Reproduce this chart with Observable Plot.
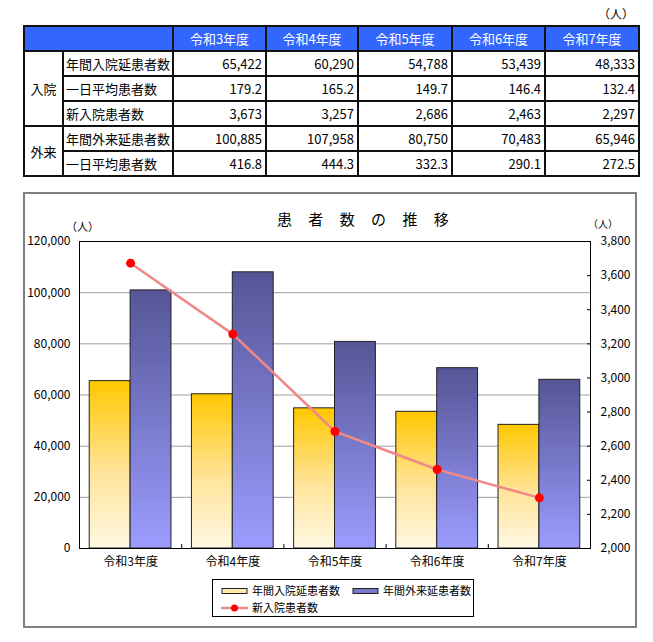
<!DOCTYPE html>
<html><head><meta charset="utf-8">
<script src="https://cdn.jsdelivr.net/npm/d3@7"></script>
<script src="https://cdn.jsdelivr.net/npm/@observablehq/plot@0.6"></script>
<style>
body{margin:0;background:#fff;font-family:"Noto Sans CJK JP","Noto Sans",sans-serif;width:653px;height:642px;position:relative;overflow:hidden;color:#000}
#unit{position:absolute;left:598px;top:8px;font-size:12px;line-height:1}
#tbl{position:absolute;left:23px;top:25px;width:615px;table-layout:fixed;border-collapse:collapse;border:2px solid #111;font-size:13px}
#tbl th,#tbl td{border:2px solid #111;padding:0;height:23px;line-height:23px;white-space:nowrap;overflow:hidden}
#tbl th{background:#3366ff;color:#fff;font-weight:normal;text-align:center}
#tbl td.num{text-align:right;padding-right:3px}
#tbl td.lab{text-align:left;padding-left:2px}
#tbl td.grp{text-align:center}
#box{position:absolute;left:23px;top:192px;width:614px;height:436px;box-sizing:border-box;border:2px solid #808080}
#title{position:absolute;left:277px;top:211px;font-size:15px;line-height:1;letter-spacing:6.5px;white-space:pre}
#ylab{position:absolute;left:66px;top:221px;font-size:11px;line-height:1}
#y2lab{position:absolute;left:588px;top:219px;font-size:10px;line-height:1}
#chart{position:absolute;left:0;top:200px}
#legend{position:absolute;left:212px;top:579px;width:262px;height:38px;box-sizing:border-box;border:1px solid #000;font-size:11px;background:#fff}
.li{position:absolute;display:flex;align-items:center;white-space:nowrap;line-height:1}
.li svg{margin-right:3px}
</style>
</head><body>
<div id="unit">（人）</div>
<table id="tbl"></table>
<div id="box"></div>
<div id="title">患 者 数 の 推 移</div>
<div id="ylab">（人）</div>
<div id="y2lab">（人）</div>
<div id="chart"></div>
<div id="legend"></div>
<script>
// ---- data ----
const years = ["令和3年度","令和4年度","令和5年度","令和6年度","令和7年度"];
const inpatientDays = [65422, 60290, 54788, 53439, 48333];
const inpatientDaily = [179.2, 165.2, 149.7, 146.4, 132.4];
const newAdmissions = [3673, 3257, 2686, 2463, 2297];
const outpatientDays = [100885, 107958, 80750, 70483, 65946];
const outpatientDaily = [416.8, 444.3, 332.3, 290.1, 272.5];
const leftTicks = [0, 20000, 40000, 60000, 80000, 100000, 120000];
const rightTicks = [2000, 2200, 2400, 2600, 2800, 3000, 3200, 3400, 3600, 3800];
const seriesNames = ["年間入院延患者数", "年間外来延患者数", "新入院患者数"];

// ---- table ----
const fmtInt = d3.format(",");
const fmtDec = d3.format(".1f");
const colW = [39, 110, 93, 92, 94, 93, 94];
const tbl = d3.select("#tbl");
const cg = tbl.append("colgroup");
colW.forEach(w => cg.append("col").style("width", w + "px"));
const hr = tbl.append("thead").append("tr");
hr.append("th").attr("colspan", 2);
years.forEach(y => hr.append("th").text(y));
const body = tbl.append("tbody");
const rowsDef = [
  {grp: "入院", span: 3, label: "年間入院延患者数", vals: inpatientDays, f: fmtInt},
  {label: "一日平均患者数", vals: inpatientDaily, f: fmtDec},
  {label: "新入院患者数", vals: newAdmissions, f: fmtInt},
  {grp: "外来", span: 2, label: "年間外来延患者数", vals: outpatientDays, f: fmtInt},
  {label: "一日平均患者数", vals: outpatientDaily, f: fmtDec}
];
rowsDef.forEach(r => {
  const tr = body.append("tr");
  if (r.grp) tr.append("td").attr("class", "grp").attr("rowspan", r.span).text(r.grp);
  tr.append("td").attr("class", "lab").text(r.label);
  r.vals.forEach(v => tr.append("td").attr("class", "num").text(r.f(v)));
});

// ---- chart ----
const W = 653, H = 380, mL = 79, mR = 63, mT = 41, mB = 32;
const n = years.length;
const step = (W - mL - mR) / n;
const bw = step * 0.8;
const rMin = 2000, rMax = 3800, lMax = 120000;
const toLeft = v => (v - rMin) * lMax / (rMax - rMin);
const fromLeft = v => v * (rMax - rMin) / lMax + rMin;
const rows = years.map((y, i) => ({year: y, inp: inpatientDays[i], out: outpatientDays[i], adm: newAdmissions[i]}));

const defs = () => {
  const d = d3.create("svg:defs");
  const g1 = d.append("linearGradient").attr("id", "gy").attr("x1", 0).attr("y1", 0).attr("x2", 0).attr("y2", 1);
  g1.append("stop").attr("offset", "0%").attr("stop-color", "#ffc800");
  g1.append("stop").attr("offset", "55%").attr("stop-color", "#ffe49a");
  g1.append("stop").attr("offset", "100%").attr("stop-color", "#fff8e2");
  const g2 = d.append("linearGradient").attr("id", "gb").attr("x1", 0).attr("y1", 0).attr("x2", 0).attr("y2", 1);
  g2.append("stop").attr("offset", "0%").attr("stop-color", "#555596");
  g2.append("stop").attr("offset", "100%").attr("stop-color", "#9c9cff");
  return d.node();
};

const chart = Plot.plot({
  width: W, height: H,
  marginLeft: mL, marginRight: mR, marginTop: mT, marginBottom: mB,
  style: {fontFamily: '"Noto Sans CJK JP", sans-serif', fontSize: "12px", color: "#000", background: "transparent", overflow: "visible"},
  x: {domain: years, paddingInner: 0.2, paddingOuter: 0.1, round: false},
  y: {domain: [0, lMax]},
  marks: [
    defs,
    Plot.ruleY(leftTicks.slice(1, -1), {stroke: "#a0a0a0", strokeWidth: 1}),
    Plot.barY(rows, {x: "year", y: "inp", fill: "url(#gy)", stroke: "#222", strokeWidth: 1, insetRight: bw / 2}),
    Plot.barY(rows, {x: "year", y: "out", fill: "url(#gb)", stroke: "#222", strokeWidth: 1, insetLeft: bw / 2}),
    Plot.frame({stroke: "#000"}),
    Plot.line(rows, {x: "year", y: d => toLeft(d.adm), stroke: "#f08888", strokeWidth: 2.5}),
    Plot.dot(rows, {x: "year", y: d => toLeft(d.adm), fill: "#ff0000", r: 4.5}),
    Plot.axisY(leftTicks, {anchor: "left", tickSize: 0, tickPadding: 9, tickFormat: d3.format(","), label: null}),
    Plot.axisY(rightTicks.map(toLeft), {anchor: "right", tickSize: 4, insetRight: 4, tickPadding: 10, tickFormat: v => fmtInt(Math.round(fromLeft(v))), label: null}),
    Plot.axisX(years, {anchor: "bottom", tickSize: 0, tickPadding: 9, label: null}),
    Plot.axisX(years, {anchor: "bottom", tickSize: 4, insetBottom: 4, dx: step / 2, fill: "none", label: null})
  ]
});
document.getElementById("chart").appendChild(chart);

// ---- legend ----
const lg = d3.select("#legend");
const item = (x, y, name, sw) => {
  const it = lg.append("div").attr("class", "li").style("left", x + "px").style("top", y + "px");
  const s = it.append("svg").attr("width", 28).attr("height", 10);
  sw(s);
  it.append("span").text(name);
};
item(8, 5, seriesNames[0], s => s.append("rect").attr("x", 1).attr("y", 2.5).attr("width", 25).attr("height", 5).attr("fill", "#ffe9a8").attr("stroke", "#222"));
item(139, 5, seriesNames[1], s => s.append("rect").attr("x", 1).attr("y", 2.5).attr("width", 25).attr("height", 5).attr("fill", "#7777c8").attr("stroke", "#222"));
item(8, 22, seriesNames[2], s => {
  s.append("line").attr("x1", 0).attr("x2", 27).attr("y1", 5).attr("y2", 5).attr("stroke", "#f08888").attr("stroke-width", 2.5);
  s.append("circle").attr("cx", 13.5).attr("cy", 5).attr("r", 3.5).attr("fill", "#ff0000");
});
</script>
</body></html>
